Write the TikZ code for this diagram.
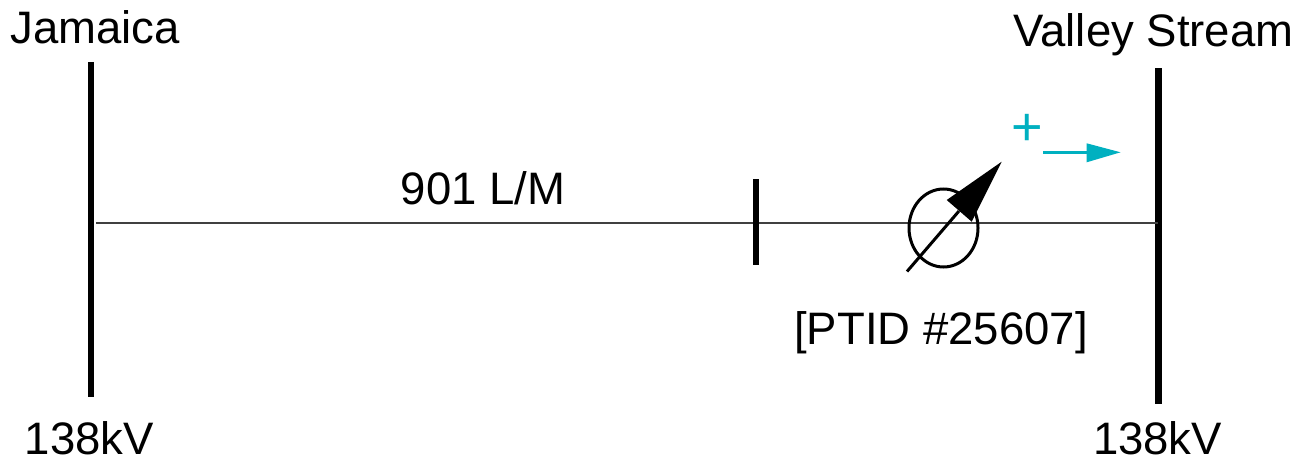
\documentclass[tikz,border=0pt]{standalone}
\usepackage{fontspec}
\setmainfont{Liberation Sans}
\usetikzlibrary{shapes.geometric}
\definecolor{tealc}{HTML}{00B0C0}
\tikzset{
 lbl/.style={inner sep=0pt,font=\fontsize{45.5}{48}\selectfont,anchor=base},
 busbar/.style={line width=6.5pt},
}
\begin{document}
\begin{tikzpicture}[x=1pt,y=-1pt]
\useasboundingbox (0,0) rectangle (1308,460);
\node[lbl] (j) at (95,43.5) {Jamaica};
\node[lbl] (v) at (1153.5,46.5) {Valley Stream};
\node[lbl] (k1) at (89.5,454.5) {138kV};
\node[lbl] (k2) at (1157.5,454.5) {138kV};
\node[lbl] (m) at (483,204) {901 L/M};
\node[lbl] (p) at (941,344) {[PTID \#25607]};
\coordinate (b1t) at (91,62); \coordinate (b1b) at (91,397);
\coordinate (b2t) at (1158.5,68); \coordinate (b2b) at (1158.5,404);
\coordinate (l1) at (96,223); \coordinate (l2) at (1158,223);
\coordinate (tt) at (756,179); \coordinate (tb) at (756,265);
\draw[busbar] (b1t) -- (b1b);
\draw[busbar] (b2t) -- (b2b);
\draw[line width=1.5pt,black!75] (l1) -- (l2);
\draw[line width=5.8pt] (tt) -- (tb);
\node[draw=black,line width=3pt,ellipse,minimum width=69pt,minimum height=78pt,inner sep=0pt] (ps) at (943.5,228) {};
\coordinate (as) at (907,271.5); \coordinate (at) at (1001.7,161.7);
\draw[line width=3pt] (as) -- (959,211);
\fill[line join=round] (at) -- (971.7,221.7) -- (946.7,200) -- cycle;
\node[font=\fontsize{54}{56}\selectfont,text=tealc,inner sep=0pt] (pl) at (1027.3,130) {+};
\coordinate (a1) at (1043,152.3); \coordinate (a2) at (1120.5,152.3);
\draw[tealc,line width=3.6pt] (a1) -- (1090,152.3);
\fill[tealc] (a2) -- (1086.7,143.3) -- (1086.7,162.3) -- cycle;
\end{tikzpicture}
\end{document}
